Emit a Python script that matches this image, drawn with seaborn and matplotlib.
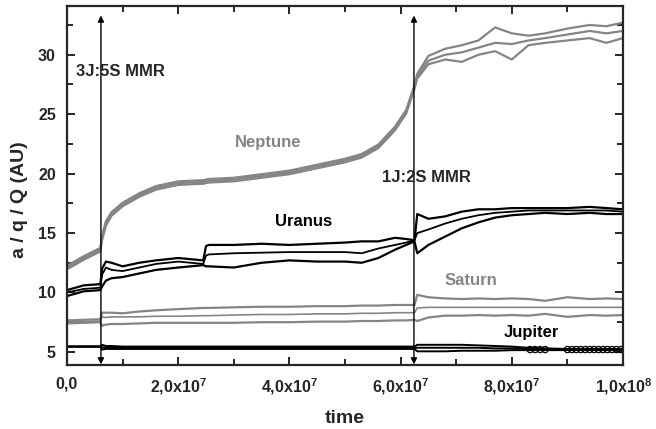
import numpy as np
import pandas as pd
import matplotlib
matplotlib.use("Agg")
import matplotlib.pyplot as plt
from matplotlib.ticker import MultipleLocator
import seaborn as sns

# ---------------- data (time in units of 1e7 yr) ----------------
t = [0, 0.3, 0.6, 0.63, 0.7, 0.8, 1.0, 1.3, 1.6, 2.0, 2.45, 2.5, 2.55, 3.0, 3.5,
     4.0, 4.5, 5.0, 5.3, 5.6, 5.9, 6.1, 6.25, 6.3, 6.5, 6.8, 7.1, 7.4, 7.7, 8.0,
     8.3, 8.6, 9.0, 9.4, 9.7, 10.0]

neptune_a = [12.1, 12.9, 13.6, 14.6, 15.8, 16.6, 17.4, 18.2, 18.8, 19.2, 19.3, 19.35, 19.4, 19.5, 19.8,
             20.1, 20.6, 21.1, 21.5, 22.3, 23.8, 25.2, 27.3, 28.2, 29.5, 30.0, 30.2, 30.6, 31.0, 30.9,
             31.2, 31.4, 31.7, 32.0, 31.8, 32.0]
neptune_Q = [12.25, 13.05, 13.75, 14.8, 16.0, 16.75, 17.55, 18.35, 18.95, 19.35, 19.45, 19.5, 19.55, 19.65, 19.95,
             20.25, 20.75, 21.25, 21.65, 22.45, 23.95, 25.35, 27.45, 28.4, 29.9, 30.5, 30.8, 31.2, 32.3, 31.8,
             31.6, 31.8, 32.2, 32.5, 32.4, 32.7]
neptune_q = [11.95, 12.75, 13.45, 14.4, 15.6, 16.45, 17.25, 18.05, 18.65, 19.05, 19.15, 19.2, 19.25, 19.35, 19.65,
             19.95, 20.45, 20.95, 21.35, 22.15, 23.65, 25.05, 27.15, 28.0, 29.2, 29.6, 29.4, 30.0, 30.3, 29.6,
             30.8, 31.0, 31.2, 31.4, 31.0, 31.4]

uranus_Q = [10.2, 10.6, 10.7, 12.0, 12.6, 12.5, 12.2, 12.5, 12.7, 12.9, 12.7, 13.9, 14.0, 14.0, 14.1,
            14.0, 14.1, 14.2, 14.3, 14.3, 14.6, 14.5, 14.4, 16.6, 16.2, 16.4, 16.8, 17.0, 17.0, 17.1,
            17.1, 17.1, 17.1, 17.2, 17.1, 17.0]
uranus_a = [10.0, 10.3, 10.4, 11.5, 12.1, 11.9, 11.8, 12.1, 12.4, 12.6, 12.4, 13.1, 13.2, 13.3, 13.35,
            13.4, 13.4, 13.4, 13.3, 13.7, 14.0, 14.2, 14.4, 15.0, 15.3, 15.8, 16.2, 16.5, 16.7, 16.8,
            16.9, 16.9, 16.9, 16.9, 16.9, 16.8]
uranus_q = [9.7, 10.1, 10.2, 10.5, 11.0, 11.2, 11.3, 11.6, 11.9, 12.1, 12.3, 12.2, 12.2, 12.1, 12.5,
            12.7, 12.6, 12.6, 12.5, 12.9, 13.6, 14.0, 14.3, 13.3, 14.0, 14.7, 15.4, 15.9, 16.3, 16.5,
            16.6, 16.7, 16.6, 16.7, 16.6, 16.6]

saturn_Q = [7.65, 7.7, 7.75, 8.3, 8.3, 8.3, 8.25, 8.4, 8.5, 8.6, 8.7, 8.7, 8.7, 8.75, 8.8,
            8.8, 8.85, 8.85, 8.9, 8.9, 8.95, 8.95, 8.95, 9.8, 9.6, 9.5, 9.45, 9.5, 9.45, 9.5,
            9.45, 9.3, 9.6, 9.45, 9.5, 9.45]
saturn_a = [7.5, 7.55, 7.6, 7.95, 7.9, 7.95, 7.95, 7.95, 8.0, 8.0, 8.05, 8.05, 8.05, 8.1, 8.15,
            8.15, 8.2, 8.2, 8.25, 8.25, 8.3, 8.3, 8.3, 8.7, 8.75, 8.75, 8.75, 8.75, 8.75, 8.75,
            8.75, 8.75, 8.75, 8.75, 8.75, 8.75]
saturn_q = [7.4, 7.45, 7.5, 7.2, 7.3, 7.35, 7.35, 7.4, 7.45, 7.45, 7.45, 7.45, 7.45, 7.45, 7.5,
            7.5, 7.55, 7.55, 7.6, 7.6, 7.65, 7.65, 7.7, 7.6, 7.9, 8.05, 8.05, 8.1, 8.05, 8.1,
            8.05, 8.2, 7.95, 8.1, 8.05, 8.1]

jupiter_Q = [5.45, 5.45, 5.45, 5.6, 5.5, 5.5, 5.45, 5.45, 5.45, 5.45, 5.45, 5.45, 5.45, 5.45, 5.45,
             5.45, 5.45, 5.45, 5.45, 5.45, 5.45, 5.45, 5.45, 5.6, 5.6, 5.6, 5.6, 5.55, 5.5, 5.45,
             5.35, 5.3, 5.25, 5.25, 5.25, 5.25]
jupiter_a = [5.45, 5.45, 5.45, 5.4, 5.35, 5.35, 5.35, 5.35, 5.35, 5.35, 5.35, 5.35, 5.35, 5.35, 5.35,
             5.35, 5.35, 5.35, 5.35, 5.35, 5.35, 5.35, 5.35, 5.35, 5.35, 5.35, 5.35, 5.35, 5.3, 5.3,
             5.25, 5.2, 5.2, 5.2, 5.2, 5.2]
jupiter_q = [5.45, 5.45, 5.45, 5.2, 5.25, 5.25, 5.25, 5.25, 5.25, 5.25, 5.25, 5.25, 5.25, 5.25, 5.25,
             5.25, 5.25, 5.25, 5.25, 5.25, 5.25, 5.25, 5.25, 5.05, 5.05, 5.05, 5.1, 5.1, 5.1, 5.15,
             5.15, 5.15, 5.15, 5.15, 5.15, 5.15]

# open-circle symbols on Jupiter's curve near the end
jupiter_circ_t = [8.33, 8.42, 8.51, 8.60, 9.00, 9.08, 9.16, 9.24, 9.32, 9.40, 9.48,
                  9.56, 9.64, 9.72, 9.80, 9.88, 9.96]
jupiter_circ_v = [5.2] * len(jupiter_circ_t)

# resonance markers
mmr_times = [0.61, 6.24]
mmr_labels = ["3J:5S MMR", "1J:2S MMR"]

xticks = [0, 2, 4, 6, 8, 10]
xtick_labels = ["0,0", r"2,0x10$^{7}$", r"4,0x10$^{7}$", r"6,0x10$^{7}$",
                r"8,0x10$^{7}$", r"1,0x10$^{8}$"]

GRAY = "#858585"
BLACK = "#000000"
SCALE = 1e7

# ---------------- style ----------------
sns.set_style("ticks")
plt.rcParams["font.family"] = ["Liberation Sans", "DejaVu Sans"]
plt.rcParams["font.weight"] = "bold"
plt.rcParams["mathtext.fontset"] = "custom"
plt.rcParams["mathtext.rm"] = "Liberation Sans:bold"
plt.rcParams["mathtext.bf"] = "Liberation Sans:bold"
plt.rcParams["mathtext.default"] = "rm"

fig = plt.figure(figsize=(6.56, 4.29), dpi=100)
ax = fig.add_axes([67 / 656, 1 - 365 / 429, 556 / 656, 359 / 429])

tt = np.array(t) * SCALE
series = [
    (neptune_Q, GRAY, 1.6), (neptune_a, GRAY, 1.6), (neptune_q, GRAY, 1.6),
    (uranus_Q, BLACK, 1.6), (uranus_a, BLACK, 1.3), (uranus_q, BLACK, 1.6),
    (saturn_Q, GRAY, 1.6), (saturn_a, GRAY, 1.2), (saturn_q, GRAY, 1.6),
    (jupiter_Q, BLACK, 1.4), (jupiter_a, BLACK, 1.4), (jupiter_q, BLACK, 1.4),
]
for vals, col, lw in series:
    sns.lineplot(x=tt, y=vals, color=col, linewidth=lw, ax=ax,
                 estimator=None, sort=False, legend=False)

sns.scatterplot(x=np.array(jupiter_circ_t) * SCALE, y=jupiter_circ_v, ax=ax,
                marker="o", s=20, facecolors="none", edgecolor=BLACK,
                linewidth=0.9, legend=False, zorder=5)

# resonance arrows
for tm in mmr_times:
    ax.annotate("", xy=(tm * SCALE, 33.3), xytext=(tm * SCALE, 3.95),
                arrowprops=dict(arrowstyle="<|-|>", color="black", lw=1.0,
                                mutation_scale=9, shrinkA=0, shrinkB=0))

ax.text(0.16 * SCALE, 28.6, mmr_labels[0], fontsize=12, fontweight="bold", va="center", ha="left")
ax.text(5.67 * SCALE, 19.7, mmr_labels[1], fontsize=12, fontweight="bold", va="center", ha="left")
ax.text(3.62 * SCALE, 22.6, "Neptune", fontsize=12, fontweight="bold", color=GRAY, ha="center", va="center")
ax.text(4.26 * SCALE, 15.95, "Uranus", fontsize=12, fontweight="bold", color=BLACK, ha="center", va="center")
ax.text(7.27 * SCALE, 11.0, "Saturn", fontsize=12, fontweight="bold", color=GRAY, ha="center", va="center")
ax.text(8.36 * SCALE, 6.6, "Jupiter", fontsize=12, fontweight="bold", color=BLACK, ha="center", va="center")

# ---------------- axes ----------------
ax.set_xlim(0, 1e8)
ax.set_ylim(3.9, 34.1)
ax.set_xticks([v * SCALE for v in xticks])
ax.set_xticklabels(xtick_labels)
ax.xaxis.set_minor_locator(MultipleLocator(1e7))
ax.set_yticks([5, 10, 15, 20, 25, 30])
ax.yaxis.set_minor_locator(MultipleLocator(2.5))

ax.tick_params(which="both", direction="in", top=True, right=True, width=1.4)
ax.tick_params(which="major", length=6, labelsize=11.5, pad=8)
ax.tick_params(which="minor", length=4)
for lab in ax.get_xticklabels() + ax.get_yticklabels():
    lab.set_fontweight("bold")
for sp in ax.spines.values():
    sp.set_linewidth(1.6)
    sp.set_visible(True)

ax.set_xlabel("time", fontsize=14, fontweight="bold", va="center")
ax.set_ylabel("a / q / Q (AU)", fontsize=14, fontweight="bold", va="center")
ax.xaxis.set_label_coords(0.5, -0.148)
ax.yaxis.set_label_coords(-0.086, 0.462)

fig.savefig("out.png", dpi=100)
